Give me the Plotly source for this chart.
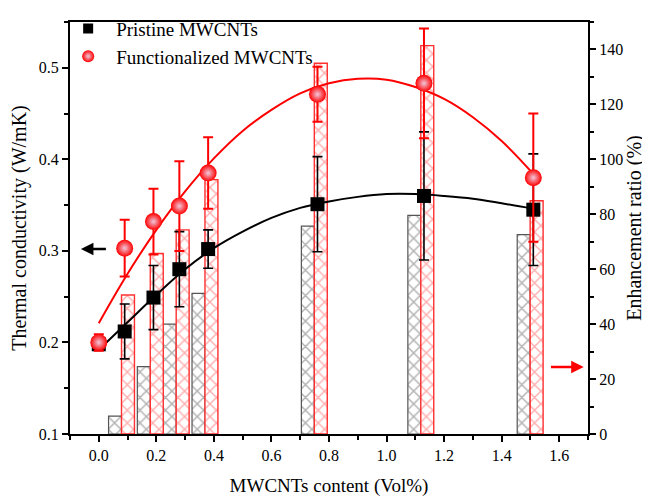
import plotly.graph_objects as go

# ---- data ----
content = [0.0, 0.09, 0.19, 0.28, 0.38, 0.76, 1.13, 1.51]
pristine_k = [0.198, 0.212, 0.249, 0.280, 0.302, 0.351, 0.360, 0.345]
pristine_err = [0.005, 0.030, 0.035, 0.041, 0.021, 0.052, 0.070, 0.061]
func_k = [0.200, 0.303, 0.332, 0.349, 0.385, 0.471, 0.483, 0.380]
func_err = [0.009, 0.031, 0.036, 0.049, 0.039, 0.030, 0.060, 0.070]

bar_content = [0.09, 0.19, 0.28, 0.38, 0.76, 1.13, 1.51]
pristine_enh = [6.5, 24.5, 40.0, 51.2, 75.7, 79.6, 72.6]
func_enh = [50.6, 65.7, 74.3, 92.6, 135.0, 141.4, 84.9]

fit_x = [0.0, 0.1, 0.2, 0.3, 0.4, 0.5, 0.6, 0.7, 0.8, 0.9, 1.0, 1.1, 1.2, 1.3, 1.4, 1.51]
pristine_fit = [0.192, 0.222, 0.252, 0.280, 0.303, 0.321, 0.336, 0.347, 0.354, 0.359, 0.362, 0.362, 0.360, 0.357, 0.352, 0.346]
func_fit = [0.221, 0.275, 0.323, 0.365, 0.401, 0.431, 0.454, 0.472, 0.483, 0.488, 0.487, 0.479, 0.466, 0.446, 0.420, 0.384]

x_ticks = [0.0, 0.2, 0.4, 0.6, 0.8, 1.0, 1.2, 1.4, 1.6]

FONT = "Liberation Serif, Times New Roman, serif"
RED = "#ff0000"

fig = go.Figure()

# bars (enhancement ratio, right axis = primary 'y')
fig.add_trace(go.Bar(
    x=bar_content, y=pristine_enh, width=0.045, offset=-0.056,
    marker=dict(color="white", line=dict(color="#555555", width=1.2),
                pattern=dict(shape="x", fgcolor="#666666", bgcolor="white", size=9, solidity=0.3)),
    showlegend=False, yaxis="y", hoverinfo="skip"))
fig.add_trace(go.Bar(
    x=bar_content, y=func_enh, width=0.045, offset=-0.011,
    marker=dict(color="white", line=dict(color="#ff3030", width=1.4),
                pattern=dict(shape="x", fgcolor="#ff6060", bgcolor="white", size=9, solidity=0.3)),
    showlegend=False, yaxis="y", hoverinfo="skip"))

# fitted curves (thermal conductivity, left axis = 'y2')
fig.add_trace(go.Scatter(x=fit_x, y=pristine_fit, mode="lines", line=dict(color="black", width=2, shape="spline"),
                         showlegend=False, yaxis="y2"))
fig.add_trace(go.Scatter(x=fit_x, y=func_fit, mode="lines", line=dict(color=RED, width=2, shape="spline"),
                         showlegend=False, yaxis="y2"))

# data points
fig.add_trace(go.Scatter(
    x=content, y=pristine_k, mode="markers", yaxis="y2", showlegend=False,
    marker=dict(symbol="square", size=14, color="black"),
    error_y=dict(type="data", array=pristine_err, color="black", thickness=1.6, width=5)))
fig.add_trace(go.Scatter(
    x=content, y=func_k, mode="markers", yaxis="y2", showlegend=False,
    marker=dict(symbol="circle", size=17, color=RED, line=dict(width=0),
                gradient=dict(type="radial", color="#f0c8dc")),
    error_y=dict(type="data", array=func_err, color=RED, thickness=2, width=5)))

# legend entries
fig.add_trace(go.Scatter(x=[None], y=[None], mode="markers", name="Pristine MWCNTs", yaxis="y2",
                         marker=dict(symbol="square", size=10, color="black")))
fig.add_trace(go.Scatter(x=[None], y=[None], mode="markers", name="Functionalized MWCNTs", yaxis="y2",
                         marker=dict(symbol="circle", size=12, color=RED, gradient=dict(type="radial", color="#f0c8dc"))))

axis_common = dict(showline=True, linecolor="black", linewidth=2, ticks="outside", tickcolor="black",
                   tickwidth=1.5, ticklen=6, showgrid=False, zeroline=False, automargin=False,
                   tickfont=dict(family=FONT, size=16, color="black"))

fig.update_layout(
    width=642, height=494,
    margin=dict(l=62, r=62, t=2, b=68),
    paper_bgcolor="white", plot_bgcolor="white",
    barmode="overlay",
    font=dict(family=FONT, color="black"),
    xaxis=dict(range=[-0.1, 1.7], tickvals=x_ticks, ticktext=[f"{v:.1f}" for v in x_ticks], mirror=True,
               minor=dict(dtick=0.1, tick0=0, ticks="outside", ticklen=4, tickcolor="black", tickwidth=1.5),
               title=dict(text="MWCNTs content (Vol%)", font=dict(family=FONT, size=19), standoff=15),
               **axis_common),
    yaxis=dict(range=[0, 150], side="right", dtick=20, tick0=0,
               minor=dict(dtick=10, ticks="outside", ticklen=4, tickcolor="black", tickwidth=1.5),
               title=dict(text="Enhancement ratio (%)", font=dict(family=FONT, size=20), standoff=5),
               **axis_common),
    yaxis2=dict(range=[0.1, 0.55], side="left", overlaying="y", dtick=0.1, tick0=0.1, tickformat=".1f",
                minor=dict(dtick=0.05, ticks="outside", ticklen=4, tickcolor="black", tickwidth=1.5),
                title=dict(text="Thermal conductivity (W/mK)", font=dict(family=FONT, size=20), standoff=7),
                **axis_common),
    legend=dict(x=-0.019, y=1.03, xanchor="left", yanchor="top", bgcolor="rgba(0,0,0,0)",
                font=dict(family=FONT, size=19, color="black"), tracegroupgap=0, itemwidth=46),
    annotations=[
        dict(x=-0.062, y=0.302, ax=0.03, ay=0.302, xref="x", yref="y2", axref="x", ayref="y2",
             showarrow=True, arrowhead=2, arrowsize=1, arrowwidth=2.5, arrowcolor="black", text=""),
        dict(x=1.685, y=24.4, ax=1.566, ay=24.4, xref="x", yref="y", axref="x", ayref="y",
             showarrow=True, arrowhead=2, arrowsize=1, arrowwidth=2.5, arrowcolor=RED, text=""),
    ],
)

fig.write_html("out.html")
